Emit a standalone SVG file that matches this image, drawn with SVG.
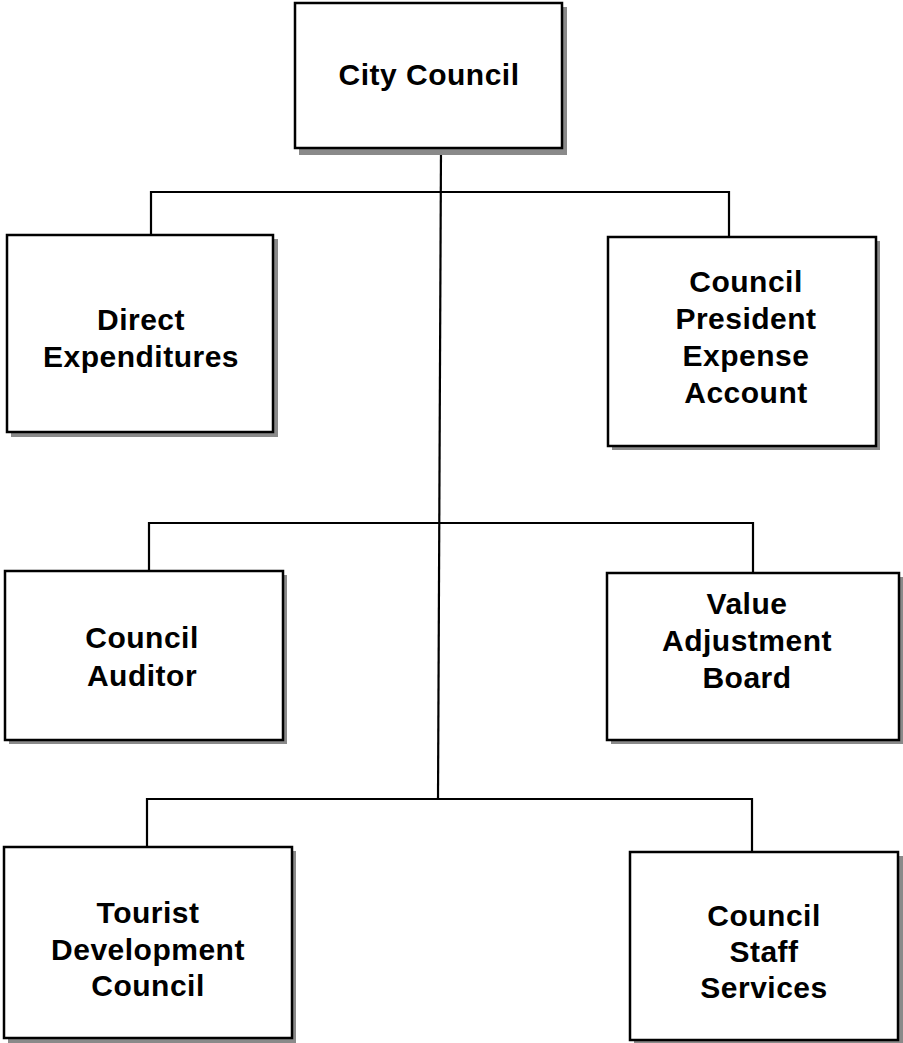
<svg xmlns="http://www.w3.org/2000/svg" width="903" height="1043" viewBox="0 0 903 1043">
  <style>
    .shadow { fill: #8a8a8a; }
    .box { fill: #ffffff; stroke: #000000; stroke-width: 2.5; }
    .label { font-family: "Liberation Sans", Arial, Helvetica, sans-serif; font-weight: bold; font-size: 30px; letter-spacing: 0.5px; text-anchor: middle; fill: #000000; }
    .wire { fill: none; stroke: #000000; stroke-width: 2.2; }
  </style>
  <rect width="903" height="1043" fill="#ffffff"/>

  <!-- connectors -->
  <g id="connectors">
    <path class="wire" d="M441,148 L438,800"/>
    <path class="wire" d="M151,235 V192 H729 V237"/>
    <path class="wire" d="M149,571 V523 H753 V573"/>
    <path class="wire" d="M147,847 V799 H752 V852"/>
  </g>

  <!-- organisation units -->
  <g id="city-council">
    <rect class="shadow" x="299" y="7" width="268" height="148"/>
    <rect class="box" x="295" y="3" width="267" height="145"/>
    <text class="label" x="429" y="85">City Council</text>
  </g>

  <g id="direct-expenditures">
    <rect class="shadow" x="11" y="239" width="267" height="198"/>
    <rect class="box" x="7" y="235" width="266" height="197"/>
    <text class="label" x="141" y="330">Direct</text>
    <text class="label" x="141" y="367">Expenditures</text>
  </g>

  <g id="council-president-expense-account">
    <rect class="shadow" x="612" y="241" width="268" height="209"/>
    <rect class="box" x="608" y="237" width="268" height="209"/>
    <text class="label" x="746" y="292">Council</text>
    <text class="label" x="746" y="329">President</text>
    <text class="label" x="746" y="366">Expense</text>
    <text class="label" x="746" y="403">Account</text>
  </g>

  <g id="council-auditor">
    <rect class="shadow" x="9" y="575" width="278" height="169"/>
    <rect class="box" x="5" y="571" width="278" height="169"/>
    <text class="label" x="142" y="648">Council</text>
    <text class="label" x="142" y="686">Auditor</text>
  </g>

  <g id="value-adjustment-board">
    <rect class="shadow" x="611" y="577" width="292" height="167"/>
    <rect class="box" x="607" y="573" width="292" height="167"/>
    <text class="label" x="747" y="614">Value</text>
    <text class="label" x="747" y="651">Adjustment</text>
    <text class="label" x="747" y="688">Board</text>
  </g>

  <g id="tourist-development-council">
    <rect class="shadow" x="8" y="851" width="288" height="192"/>
    <rect class="box" x="4" y="847" width="288" height="191"/>
    <text class="label" x="148" y="923">Tourist</text>
    <text class="label" x="148" y="960">Development</text>
    <text class="label" x="148" y="996">Council</text>
  </g>

  <g id="council-staff-services">
    <rect class="shadow" x="634" y="856" width="269" height="187"/>
    <rect class="box" x="630" y="852" width="268" height="188"/>
    <text class="label" x="764" y="926">Council</text>
    <text class="label" x="764" y="962">Staff</text>
    <text class="label" x="764" y="998">Services</text>
  </g>
</svg>
